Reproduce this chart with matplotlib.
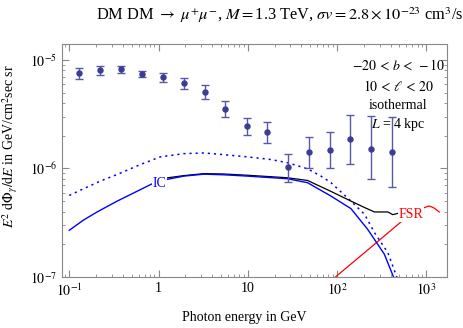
import matplotlib
matplotlib.use('Agg')
import matplotlib.pyplot as plt
import numpy as np
from matplotlib.ticker import FixedLocator, FixedFormatter, LogLocator, NullFormatter

plt.rcParams['font.family'] = ['Liberation Serif', 'DejaVu Serif']
plt.rcParams['mathtext.fontset'] = 'stix'

# data points with error bars
e_pts = [0.13, 0.22, 0.38, 0.66, 1.13, 1.92, 3.29, 5.6, 9.75, 16.3, 27.9, 48.4, 82.8, 141, 241, 412]
flux = [7.55e-6, 8.1e-6, 8.2e-6, 7.4e-6, 6.9e-6, 6.1e-6, 5.1e-6, 3.5e-6, 2.45e-6,
        2.15e-6, 1.04e-6, 1.43e-6, 1.47e-6, 1.85e-6, 1.51e-6, 1.41e-6]
flux_hi = [8.4e-6, 8.8e-6, 8.8e-6, 7.9e-6, 7.6e-6, 6.8e-6, 5.85e-6, 4.17e-6, 2.9e-6,
           2.7e-6, 1.37e-6, 1.95e-6, 2.15e-6, 3.1e-6, 3.07e-6, 2.98e-6]
flux_lo = [6.65e-6, 7.3e-6, 7.6e-6, 7.0e-6, 6.3e-6, 5.4e-6, 4.35e-6, 2.98e-6, 2.05e-6,
           1.72e-6, 7.55e-7, 1.0e-6, 1.02e-6, 1.1e-6, 8.0e-7, 6.8e-7]

# IC (solid blue)
e_ic = [0.1, 0.145, 0.205, 0.344, 0.631, 0.851, 1.25, 1.92, 3.24, 5.42, 9.9, 27.9,
        46.8, 85.7, 143.5, 221, 339, 442]
ic = [2.70e-7, 3.36e-7, 3.98e-7, 5.01e-7, 6.41e-7, 7.24e-7, 7.94e-7, 8.51e-7, 8.87e-7,
      8.75e-7, 8.51e-7, 8.05e-7, 7.40e-7, 5.57e-7, 4.27e-7, 2.75e-7, 1.63e-7, 9.5e-8]

# dotted blue
e_dot = [0.1, 0.145, 0.223, 0.344, 0.631, 1.05, 1.92, 3.24, 5.42, 9.9, 18.1, 27.9,
         46.8, 66.1, 85.7, 143.5, 204, 263, 372, 479]
dot = [5.65e-7, 6.52e-7, 7.66e-7, 8.81e-7, 1.09e-6, 1.28e-6, 1.37e-6, 1.39e-6, 1.34e-6,
       1.28e-6, 1.21e-6, 1.13e-6, 9.93e-7, 8.51e-7, 7.40e-7, 5.01e-7, 3.78e-7, 2.57e-7,
       1.68e-7, 9.5e-8]

# total (black)
e_tot = [1.0, 1.92, 3.24, 5.42, 9.9, 27.9, 46.8, 85.7, 143.5, 204, 263, 372, 422, 479]
tot = [8.0e-7, 8.6e-7, 8.97e-7, 8.9e-7, 8.67e-7, 8.22e-7, 7.76e-7, 6.15e-7, 5.01e-7,
       4.37e-7, 3.98e-7, 3.98e-7, 3.76e-7, 3.86e-7]

# FSR (red)
e_fsr = [95.5, 200, 525, 955, 1072, 1202, 1400]
fsr = [1.0e-7, 1.66e-7, 3.24e-7, 4.37e-7, 4.52e-7, 4.37e-7, 3.98e-7]

fig = plt.figure(figsize=(4.63, 3.28), dpi=100)
ax = fig.add_axes([0.134, 0.155, 0.831, 0.711])

ax.plot(e_fsr, fsr, color='red', lw=0.9)
ax.plot(e_dot, dot, color='blue', lw=1.1, linestyle=(0, (1.4, 2.6)))
ax.plot(e_tot, tot, color='black', lw=0.9)
ax.plot(e_ic, ic, color='blue', lw=1.0)

pts = np.array(flux)
yerr = [pts - np.array(flux_lo), np.array(flux_hi) - pts]
ax.errorbar(e_pts, flux, yerr=yerr, fmt='o', color='#3c3c96', ms=3.6,
            ecolor='#5858a8', elinewidth=1.0, capsize=3, capthick=1.0)

ax.text(1.02, 7.24e-7, 'IC', color='blue', fontsize=10, ha='center', va='center',
        bbox=dict(facecolor='white', edgecolor='none', pad=0.5))
ax.text(676, 3.78e-7, 'FSR', color='red', fontsize=10, ha='center', va='center',
        bbox=dict(facecolor='white', edgecolor='none', pad=0.5))

ax.text(484, 9.0e-6, r'$-20\,<\,b\,<\,-10$', fontsize=10, ha='center', va='center')
ax.text(484, 5.77e-6, r'$10\,<\,\ell\,<\,20$', fontsize=10, ha='center', va='center')
ax.text(484, 3.78e-6, 'isothermal', fontsize=10, ha='center', va='center')
ax.text(484, 2.54e-6, r'$L$ = 4 kpc', fontsize=10, ha='center', va='center')

ax.set_xscale('log')
ax.set_yscale('log')
ax.set_xlim(0.083, 1700)
ax.set_ylim(1e-7, 1.4e-5)

ax.xaxis.set_major_locator(FixedLocator([0.1, 1, 10, 100, 1000]))
ax.xaxis.set_major_formatter(FixedFormatter([r'$10^{-1}$', '1', '10', r'$10^2$', r'$10^3$']))
ax.xaxis.set_minor_locator(LogLocator(base=10, subs=np.arange(2, 10), numticks=20))
ax.xaxis.set_minor_formatter(NullFormatter())
ax.yaxis.set_major_locator(FixedLocator([1e-7, 1e-6, 1e-5]))
ax.yaxis.set_major_formatter(FixedFormatter([r'$10^{-7}$', r'$10^{-6}$', r'$10^{-5}$']))
ax.yaxis.set_minor_locator(LogLocator(base=10, subs=np.arange(2, 10), numticks=20))
ax.yaxis.set_minor_formatter(NullFormatter())

ax.tick_params(which='both', direction='in', top=True, right=True, color='#888888',
               labelsize=10)
ax.tick_params(which='major', length=5)
ax.tick_params(which='minor', length=2.5)
for s in ax.spines.values():
    s.set_color('#888888')
    s.set_linewidth(0.8)

ax.set_xlabel('Photon energy in GeV', fontsize=10)
ax.xaxis.set_label_coords(0.473, -0.145)
ax.set_ylabel(r'$E^2\ \mathrm{d}\Phi_\gamma/\mathrm{d}E$ in GeV/cm$^2$sec sr', fontsize=10)
ax.yaxis.set_label_coords(-0.11, 0.56)
fig.suptitle(r'DM DM $\rightarrow\ \mu^{+}\mu^{-}$, $M = $1.3 TeV, $\sigma v = 2.8\times10^{-23}$ cm$^3$/s',
             x=0.605, y=0.985, fontsize=11.8)

fig.savefig('out.png', dpi=100)
